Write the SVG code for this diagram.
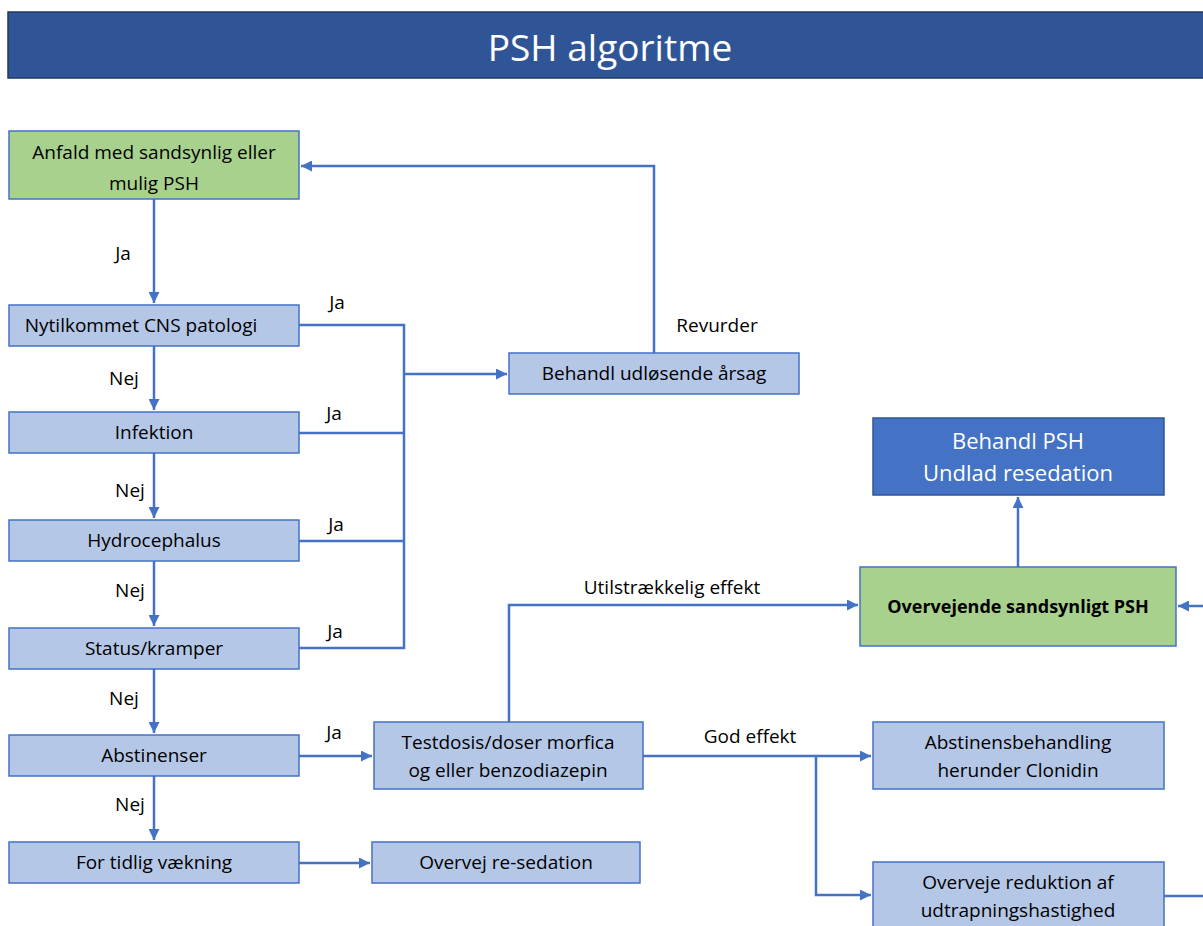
<svg xmlns="http://www.w3.org/2000/svg" width="1203" height="926" viewBox="0 0 1203 926">
<defs>
<style>
.t{font-family:"Open Sans","Liberation Sans",sans-serif;font-size:19px;fill:#000;text-anchor:middle}
.n{fill:#B4C7E7;stroke:#4472C4;stroke-width:1.5}
.g{fill:#A9D18E;stroke:#4472C4;stroke-width:1.5}
.c{fill:none;stroke:#4472C4;stroke-width:2.5}
.w{font-family:"Open Sans","Liberation Sans",sans-serif;font-size:22px;fill:#fff;text-anchor:middle}
</style>
<marker id="ah" viewBox="0 0 10 10" refX="10" refY="5" markerWidth="4.4" markerHeight="4.4" orient="auto" markerUnits="strokeWidth">
<path d="M0,0 L10,5 L0,10 z" fill="#4472C4"/>
</marker>
</defs>
<rect width="1203" height="926" fill="#fff"/>
<g id="title">
<rect x="8" y="12" width="1200" height="66" fill="#2F5597" stroke="#1F3864" stroke-width="1.5"/>
<text x="610" y="61" style="font-family:'Open Sans','Liberation Sans',sans-serif;font-size:37px;fill:#fff;text-anchor:middle">PSH algoritme</text>
</g>
<g id="connectors">
<path class="c" d="M154,199 V303" marker-end="url(#ah)"/>
<path class="c" d="M154,346 V410" marker-end="url(#ah)"/>
<path class="c" d="M154,453 V518" marker-end="url(#ah)"/>
<path class="c" d="M154,561 V626" marker-end="url(#ah)"/>
<path class="c" d="M154,669 V733" marker-end="url(#ah)"/>
<path class="c" d="M154,776 V840" marker-end="url(#ah)"/>
<path class="c" d="M299,325 H404 V648 H299 M299,433 H404 M299,541 H404"/>
<path class="c" d="M404,374 H507" marker-end="url(#ah)"/>
<path class="c" d="M654,353 V166 H301" marker-end="url(#ah)"/>
<path class="c" d="M299,756 H372" marker-end="url(#ah)"/>
<path class="c" d="M299,863 H370" marker-end="url(#ah)"/>
<path class="c" d="M509,722 V605 H858" marker-end="url(#ah)"/>
<path class="c" d="M1018,567 V497" marker-end="url(#ah)"/>
<path class="c" d="M1203,606 H1178" marker-end="url(#ah)"/>
<path class="c" d="M643,756 H871" marker-end="url(#ah)"/>
<path class="c" d="M816,756 V895 H871" marker-end="url(#ah)"/>
<path class="c" d="M1164,896 H1203"/>
</g>
<g id="labels">
<text class="t" x="123" y="260">Ja</text>
<text class="t" x="124" y="385">Nej</text>
<text class="t" x="130" y="497">Nej</text>
<text class="t" x="130" y="597">Nej</text>
<text class="t" x="124" y="705">Nej</text>
<text class="t" x="130" y="811">Nej</text>
<text class="t" x="337" y="309">Ja</text>
<text class="t" x="334" y="420">Ja</text>
<text class="t" x="336" y="531">Ja</text>
<text class="t" x="335" y="638">Ja</text>
<text class="t" x="334" y="739">Ja</text>
<text class="t" x="717" y="332">Revurder</text>
<text class="t" x="672" y="594">Utilstrækkelig effekt</text>
<text class="t" x="750" y="743">God effekt</text>
</g>
<g id="n-anfald">
<rect class="g" x="9" y="131" width="290" height="68"/>
<text class="t" x="154" y="159">Anfald med sandsynlig eller</text>
<text class="t" x="154" y="190">mulig PSH</text>
</g>
<g id="n-cns">
<rect class="n" x="9" y="305" width="290" height="41"/>
<text class="t" x="141" y="332">Nytilkommet CNS patologi</text>
</g>
<g id="n-infektion">
<rect class="n" x="9" y="412" width="290" height="41"/>
<text class="t" x="154" y="439">Infektion</text>
</g>
<g id="n-hydro">
<rect class="n" x="9" y="520" width="290" height="41"/>
<text class="t" x="154" y="547">Hydrocephalus</text>
</g>
<g id="n-status">
<rect class="n" x="9" y="628" width="290" height="41"/>
<text class="t" x="154" y="655">Status/kramper</text>
</g>
<g id="n-abst">
<rect class="n" x="9" y="735" width="290" height="41"/>
<text class="t" x="154" y="762">Abstinenser</text>
</g>
<g id="n-tidlig">
<rect class="n" x="9" y="842" width="290" height="41"/>
<text class="t" x="154" y="869">For tidlig vækning</text>
</g>
<g id="n-behandl-aarsag">
<rect class="n" x="509" y="353" width="290" height="41"/>
<text class="t" x="654" y="380">Behandl udløsende årsag</text>
</g>
<g id="n-behandl-psh">
<rect x="873" y="418" width="291" height="77" fill="#4472C4" stroke="#2F5597" stroke-width="1.5"/>
<text class="w" x="1018" y="449">Behandl PSH</text>
<text class="w" x="1018" y="481">Undlad resedation</text>
</g>
<g id="n-overvejende">
<rect class="g" x="860" y="567" width="316" height="79"/>
<text class="t" x="1018" y="613" style="font-weight:bold;font-size:18px">Overvejende sandsynligt PSH</text>
</g>
<g id="n-testdosis">
<rect class="n" x="374" y="722" width="269" height="67"/>
<text class="t" x="508" y="749">Testdosis/doser morfica</text>
<text class="t" x="508" y="777">og eller benzodiazepin</text>
</g>
<g id="n-resedation">
<rect class="n" x="372" y="842" width="268" height="41"/>
<text class="t" x="506" y="869">Overvej re-sedation</text>
</g>
<g id="n-abstbeh">
<rect class="n" x="873" y="722" width="291" height="67"/>
<text class="t" x="1018" y="749">Abstinensbehandling</text>
<text class="t" x="1018" y="777">herunder Clonidin</text>
</g>
<g id="n-reduktion">
<rect class="n" x="873" y="862" width="291" height="70"/>
<text class="t" x="1018" y="889">Overveje reduktion af</text>
<text class="t" x="1018" y="917">udtrapningshastighed</text>
</g>
</svg>
